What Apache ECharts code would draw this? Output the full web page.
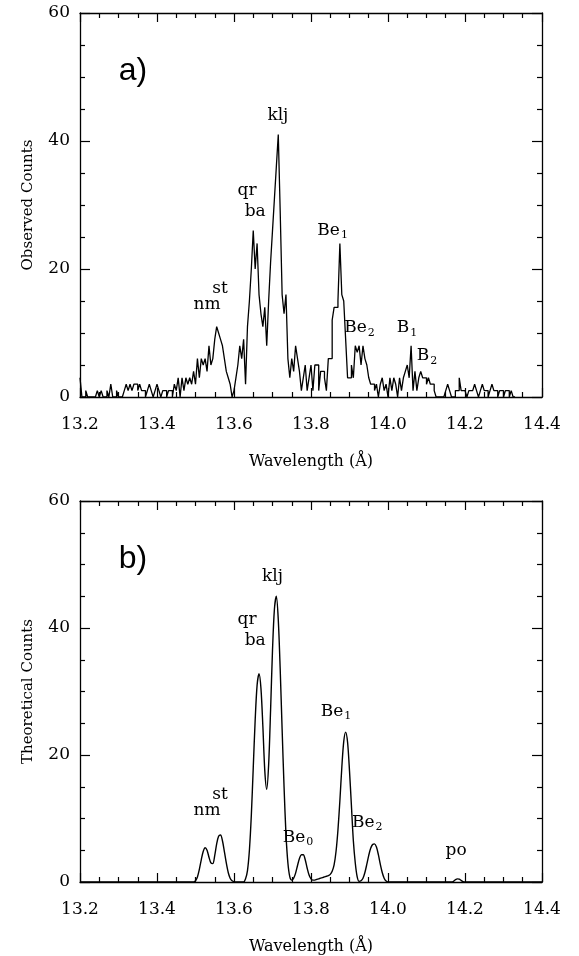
<!DOCTYPE html>
<html>
<head>
<meta charset="utf-8">
<script src="https://cdn.jsdelivr.net/npm/echarts@6/dist/echarts.min.js"></script>
<style>
html,body{margin:0;padding:0;background:#fff;}
#c{width:579px;height:956px;}
</style>
</head>
<body>
<div id="c"></div>
<script>
// ---------- DATA ----------
// Observed histogram: bins of 0.005 Å starting at 13.200 Å
const binStart = 13.2;
const binWidth = 0.005;
const obsCounts = [
  3,0,0,1,0,0,0,0,0,1,
  0,1,0,0,1,0,2,0,0,1,
  0,0,0,1,2,1,2,1,2,2,
  1,2,1,1,0,1,2,1,0,1,
  2,1,0,1,1,0,1,1,0,2,
  1,3,0,3,1,3,2,3,2,4,
  2,6,3,6,5,6,4,8,5,6,
  9,11,10,9,8,6,4,3,2,0,
  1,3,5,8,6,9,2,11,15,20,
  26,20,24,16,13,11,14,8,15,21,
  26,31,36,41,29,16,13,16,6,3,
  6,4,8,6,4,1,3,5,1,3,
  5,1,5,5,1,4,4,3,1,6,
  6,12,14,14,15,24,16,15,9,3,
  3,5,3,8,7,8,5,8,6,5,
  3,2,2,1,2,0,2,3,1,2,
  0,3,1,3,2,0,3,1,3,4,
  5,3,8,1,4,1,3,4,3,3,
  2,3,2,2,1,0,0,0,0,0,
  1,2,1,0,0,1,1,3,1,1,
  1,0,1,1,1,2,1,0,1,2,
  1,1,0,1,2,1,1,0,1,1,
  0,1,1,0,1,0
];

// Theoretical spectrum
const theoWave = [
  13.200,13.495,13.500,13.505,13.510,13.515,13.520,13.525,13.530,13.535,
  13.540,13.545,13.550,13.555,13.560,13.565,13.570,13.575,13.580,13.585,
  13.590,13.595,13.600,13.605,13.625,13.630,13.635,13.640,13.645,13.650,
  13.655,13.660,13.665,13.670,13.675,13.680,13.685,13.690,13.695,13.700,
  13.705,13.710,13.715,13.720,13.725,13.730,13.735,13.740,13.745,13.750,
  13.755,13.760,13.765,13.770,13.775,13.780,13.785,13.790,13.795,13.800,
  13.805,13.810,13.815,13.820,13.825,13.830,13.835,13.840,13.845,13.850,
  13.855,13.860,13.865,13.870,13.875,13.880,13.885,13.890,13.895,13.900,
  13.905,13.910,13.915,13.920,13.925,13.930,13.935,13.940,13.945,13.950,
  13.955,13.960,13.965,13.970,13.975,13.980,13.985,13.990,13.995,14.000,
  14.165,14.170,14.175,14.180,14.185,14.190,14.195,14.200,14.400
];
const theoCounts = [
  0,0,0.2,0.8,2.0,3.5,4.8,5.4,5.0,3.9,
  3.0,2.9,4.2,6.0,7.2,7.4,6.5,4.8,3.0,1.5,
  0.6,0.2,0.05,0,0,0.5,1.8,5.0,10.5,18.0,
  25.5,31.0,32.8,30.5,24.5,17.5,14.6,18.5,27.0,36.5,
  43.0,45.0,41.3,33.5,24.0,15.0,7.5,3.0,0.8,0.3,
  0.6,1.4,2.6,3.7,4.3,4.3,3.5,2.2,1.1,0.5,
  0.3,0.3,0.4,0.5,0.6,0.7,0.8,0.9,1.0,1.2,
  1.7,2.7,4.8,8.2,12.8,18.0,22.1,23.6,22.0,17.5,
  12.0,6.5,3.0,0.8,0.1,0.2,0.6,1.5,2.8,4.2,
  5.3,5.9,6.0,5.5,4.3,2.8,1.5,0.6,0.15,0,
  0,0.1,0.35,0.5,0.45,0.25,0.05,0,0
];

// Axis ticks
const xMin = 13.2, xMax = 14.4, xStep = 0.2;
const yMin = 0, yMax = 60, yStep = 20;

// Line labels: [wavelength, counts, main text, subscript]
const labelsA = [
  [13.714, 44.0, 'klj', ''],
  [13.634, 32.3, 'qr', ''],
  [13.655, 29.0, 'ba', ''],
  [13.564, 16.9, 'st', ''],
  [13.530, 14.4, 'nm', ''],
  [13.875, 26.0, 'Be', '1'],
  [13.945, 10.8, 'Be', '2'],
  [14.055, 10.8, 'B', '1'],
  [14.107, 6.4, 'B', '2']
];
const labelsB = [
  [13.700, 48.1, 'klj', ''],
  [13.634, 41.4, 'qr', ''],
  [13.655, 38.0, 'ba', ''],
  [13.564, 13.75, 'st', ''],
  [13.530, 11.25, 'nm', ''],
  [13.785, 7.0, 'Be', '0'],
  [13.884, 26.9, 'Be', '1'],
  [13.965, 9.4, 'Be', '2'],
  [14.177, 5.0, 'po', '']
];
const panelTags = ['a)', 'b)'];
const yTitles = ['Observed Counts', 'Theoretical Counts'];
const xTitle = 'Wavelength (Å)';

// ---------- CHART ----------
const obsData = obsCounts.map((v, i) => [binStart + i * binWidth, v]);
obsData.push([binStart + obsCounts.length * binWidth, 0]);
const theoData = theoWave.map((w, i) => [w, theoCounts[i]]);

const FONT = 'DejaVu Serif';
const black = '#000';
const grids = [
  {left: 80, top: 13, width: 462, height: 384},
  {left: 80, top: 501, width: 462, height: 384}
];

function xAxes(gi) {
  const common = {
    type: 'value', gridIndex: gi, min: xMin, max: xMax, interval: xStep,
    axisLine: {show: true, onZero: false, lineStyle: {color: black, width: 1.3}},
    axisTick: {show: true, inside: true, length: 9, lineStyle: {color: black, width: 1.2}},
    minorTick: {show: true, splitNumber: 4, length: 5, lineStyle: {color: black, width: 1.2}},
    splitLine: {show: false}
  };
  return [
    Object.assign({}, common, {
      position: 'bottom',
      name: xTitle, nameLocation: 'middle', nameGap: 57,
      nameTextStyle: {color: black, fontFamily: FONT, fontSize: 16},
      axisLabel: {show: true, margin: 19, color: black, fontFamily: FONT, fontSize: 17,
        formatter: v => v.toFixed(1)}
    }),
    Object.assign({}, common, {position: 'top', axisLabel: {show: false}})
  ];
}
function yAxes(gi) {
  const common = {
    type: 'value', gridIndex: gi, min: yMin, max: yMax, interval: yStep,
    axisLine: {show: true, onZero: false, lineStyle: {color: black, width: 1.3}},
    axisTick: {show: true, inside: true, length: 10, lineStyle: {color: black, width: 1.2}},
    minorTick: {show: true, splitNumber: 4, length: 5, lineStyle: {color: black, width: 1.2}},
    splitLine: {show: false}
  };
  return [
    Object.assign({}, common, {
      position: 'left',
      name: yTitles[gi], nameLocation: 'middle', nameGap: 44,
      nameTextStyle: {color: black, fontFamily: FONT, fontSize: 15},
      axisLabel: {show: true, margin: 10, color: black, fontFamily: FONT, fontSize: 17}
    }),
    Object.assign({}, common, {position: 'right', axisLabel: {show: false}})
  ];
}

const chart = echarts.init(document.getElementById('c'), null, {renderer: 'canvas'});
chart.setOption({
  animation: false,
  backgroundColor: '#fff',
  grid: grids,
  xAxis: [...xAxes(0), ...xAxes(1)],
  yAxis: [...yAxes(0), ...yAxes(1)],
  series: [
    {type: 'line', xAxisIndex: 0, yAxisIndex: 0, data: obsData, step: 'end',
      showSymbol: false, lineStyle: {color: black, width: 1.3}, clip: true},
    {type: 'line', xAxisIndex: 2, yAxisIndex: 2, data: theoData, smooth: 0.3,
      showSymbol: false, lineStyle: {color: black, width: 1.4}, clip: true}
  ]
});

function buildLabels(list, gi) {
  const out = [];
  list.forEach(([w, c, t, s]) => {
    const p = chart.convertToPixel({xAxisIndex: gi * 2, yAxisIndex: gi * 2}, [w, c]);
    out.push({type: 'text', x: p[0], y: p[1], silent: true,
      style: {text: t, fill: black, font: '17px "' + FONT + '"',
        align: s ? 'right' : 'center', verticalAlign: 'middle'}});
    if (s) {
      out.push({type: 'text', x: p[0] + 1, y: p[1] + 5, silent: true,
        style: {text: s, fill: black, font: '11px "' + FONT + '"', align: 'left', verticalAlign: 'middle'}});
    }
  });
  return out;
}
const graphics = [...buildLabels(labelsA, 0), ...buildLabels(labelsB, 1)];
panelTags.forEach((tag, gi) => {
  graphics.push({type: 'text', x: grids[gi].left + 53, y: grids[gi].top + 58, silent: true,
    style: {text: tag, fill: black, font: '32px "Liberation Sans"', align: 'center', verticalAlign: 'middle'}});
});
chart.setOption({graphic: graphics});
</script>
</body>
</html>
